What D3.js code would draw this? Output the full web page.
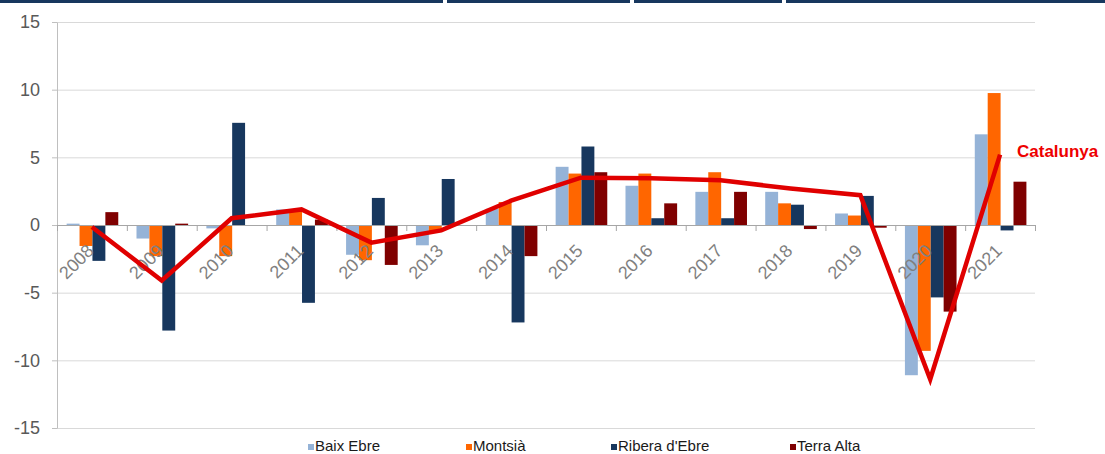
<!DOCTYPE html>
<html>
<head>
<meta charset="utf-8">
<script src="https://cdn.jsdelivr.net/npm/d3@7"></script>
<style>
  body { margin: 0; background: #fff; }
  svg { display: block; font-family: "Liberation Sans", Arial, sans-serif; }
</style>
</head>
<body>
<div id="chart"></div>
<script>
// data
var years = ["2008","2009","2010","2011","2012","2013","2014","2015","2016","2017","2018","2019","2020","2021"];
var series = ["Baix Ebre", "Montsià", "Ribera d'Ebre", "Terra Alta"];
var baixEbre   = [0.1, -1.0, -0.25, 1.15, -2.2, -1.5, 1.2, 4.3, 2.9, 2.45, 2.45, 0.85, -11.1, 6.7];
var montsia    = [-1.55, -2.3, -2.3, 1.1, -2.6, -0.5, 1.7, 3.8, 3.8, 3.9, 1.6, 0.7, -9.3, 9.75];
var riberaEbre = [-2.65, -7.8, 7.55, -5.75, 2.0, 3.4, -7.2, 5.8, 0.5, 0.5, 1.5, 2.15, -5.35, -0.4];
var terraAlta  = [0.95, 0.1, 0, 0.4, -2.95, 0, -2.3, 3.9, 1.6, 2.45, -0.3, -0.2, -6.4, 3.2];
var catalunya  = [-0.15, -4.1, 0.5, 1.15, -1.3, -0.4, 1.8, 3.5, 3.45, 3.3, 2.7, 2.2, -11.4, 5.2];
var yTicks = [-15, -10, -5, 0, 5, 10, 15];

var colors = ["#95b3d7", "#ff6600", "#17375e", "#7f0000"];
var values = [baixEbre, montsia, riberaEbre, terraAlta];

var W = 1105, H = 454;
var plot = {left: 57, right: 1035, top: 22, bottom: 428};

var svg = d3.select("#chart").append("svg")
    .attr("width", W)
    .attr("height", H);

// dark strip along the top edge
var strip = [[0, 443], [447, 630], [634, 782], [786, 1105]];
svg.selectAll(".strip")
  .data(strip)
  .enter()
  .append("rect")
    .attr("x", function(d) { return d[0]; })
    .attr("y", 0)
    .attr("width", function(d) { return d[1] - d[0]; })
    .attr("height", 3)
    .attr("fill", "#17375e");

var y = d3.scaleLinear()
  .domain([-15, 15])
  .range([plot.bottom, plot.top]);

var x0 = d3.scaleBand()
  .domain(years)
  .range([plot.left, plot.right])
  .padding(0);
var bw = x0.bandwidth();

var x1 = d3.scaleBand()
  .domain(series)
  .range([bw * 0.138, bw * 0.877])
  .padding(0);

// gridlines
svg.append("g")
  .attr("transform", "translate(" + plot.left + ",0)")
  .call(d3.axisLeft(y).tickValues(yTicks).tickSize(-(plot.right - plot.left)).tickFormat(""))
  .call(function(g) {
    g.select(".domain").remove();
    g.selectAll("line").attr("stroke", "#d9d9d9").attr("stroke-width", 1);
  });

// y axis
svg.append("g")
  .attr("transform", "translate(" + plot.left + ",0)")
  .call(d3.axisLeft(y).tickValues(yTicks).tickSize(5).tickPadding(12).tickSizeOuter(0)
    .tickFormat(function(d) { return String(d); }))
  .call(function(g) {
    g.select(".domain").attr("stroke", "#bfbfbf");
    g.selectAll("line").attr("stroke", "#bfbfbf");
    g.selectAll("text")
      .attr("fill", "#595959")
      .style("font-size", "18px")
      .style("font-family", "'Liberation Sans', Arial, sans-serif");
  });

// bars
var groups = svg.selectAll(".year")
  .data(years)
  .enter()
  .append("g")
    .attr("transform", function(d) { return "translate(" + x0(d) + ",0)"; });

groups.selectAll("rect")
  .data(function(d, i) {
    return series.map(function(s, k) { return { s: s, k: k, v: values[k][i] }; });
  })
  .enter()
  .append("rect")
    .attr("x", function(d) { return x1(d.s); })
    .attr("width", x1.bandwidth())
    .attr("y", function(d) { return y(Math.max(0, d.v)); })
    .attr("height", function(d) { return Math.abs(y(d.v) - y(0)); })
    .attr("fill", function(d) { return colors[d.k]; });

// zero line with category ticks
var xb = d3.scaleLinear().domain([0, years.length]).range([plot.left, plot.right]);
svg.append("g")
  .attr("transform", "translate(0," + y(0) + ")")
  .call(d3.axisBottom(xb).tickValues(d3.range(0, years.length + 1)).tickSize(6).tickSizeOuter(0).tickFormat(""))
  .call(function(g) {
    g.select(".domain").attr("stroke", "#a6a6a6");
    g.selectAll("line").attr("stroke", "#a6a6a6");
  });

// year labels
svg.selectAll(".ylab")
  .data(years)
  .enter()
  .append("text")
    .attr("transform", function(d) {
      return "translate(" + (x0(d) + bw / 2 + 3) + "," + (y(0) + 27) + ")rotate(-45)";
    })
    .attr("text-anchor", "end")
    .attr("fill", "#808080")
    .style("font-size", "18px")
    .text(function(d) { return d; });

// Catalunya line
var line = d3.line()
  .x(function(d, i) { return x0(years[i]) + bw / 2; })
  .y(function(d) { return y(d); });

svg.append("path")
  .datum(catalunya)
  .attr("d", line)
  .attr("fill", "none")
  .attr("stroke", "#e00000")
  .attr("stroke-width", 4.5);

svg.append("text")
  .attr("x", 1017)
  .attr("y", 157)
  .attr("fill", "#ee0000")
  .style("font-size", "17px")
  .style("font-weight", "bold")
  .text("Catalunya");

// legend
var legendX = [308, 466, 611, 790];
var legend = svg.selectAll(".leg")
  .data(series)
  .enter()
  .append("g")
    .attr("transform", function(d, i) { return "translate(" + legendX[i] + ",444)"; });
legend.append("rect")
  .attr("width", 6)
  .attr("height", 6)
  .attr("fill", function(d, i) { return colors[i]; });
legend.append("text")
  .attr("x", 7)
  .attr("y", 6.5)
  .attr("fill", "#1a1a1a")
  .style("font-size", "15px")
  .text(function(d) { return d; });
</script>
</body>
</html>
